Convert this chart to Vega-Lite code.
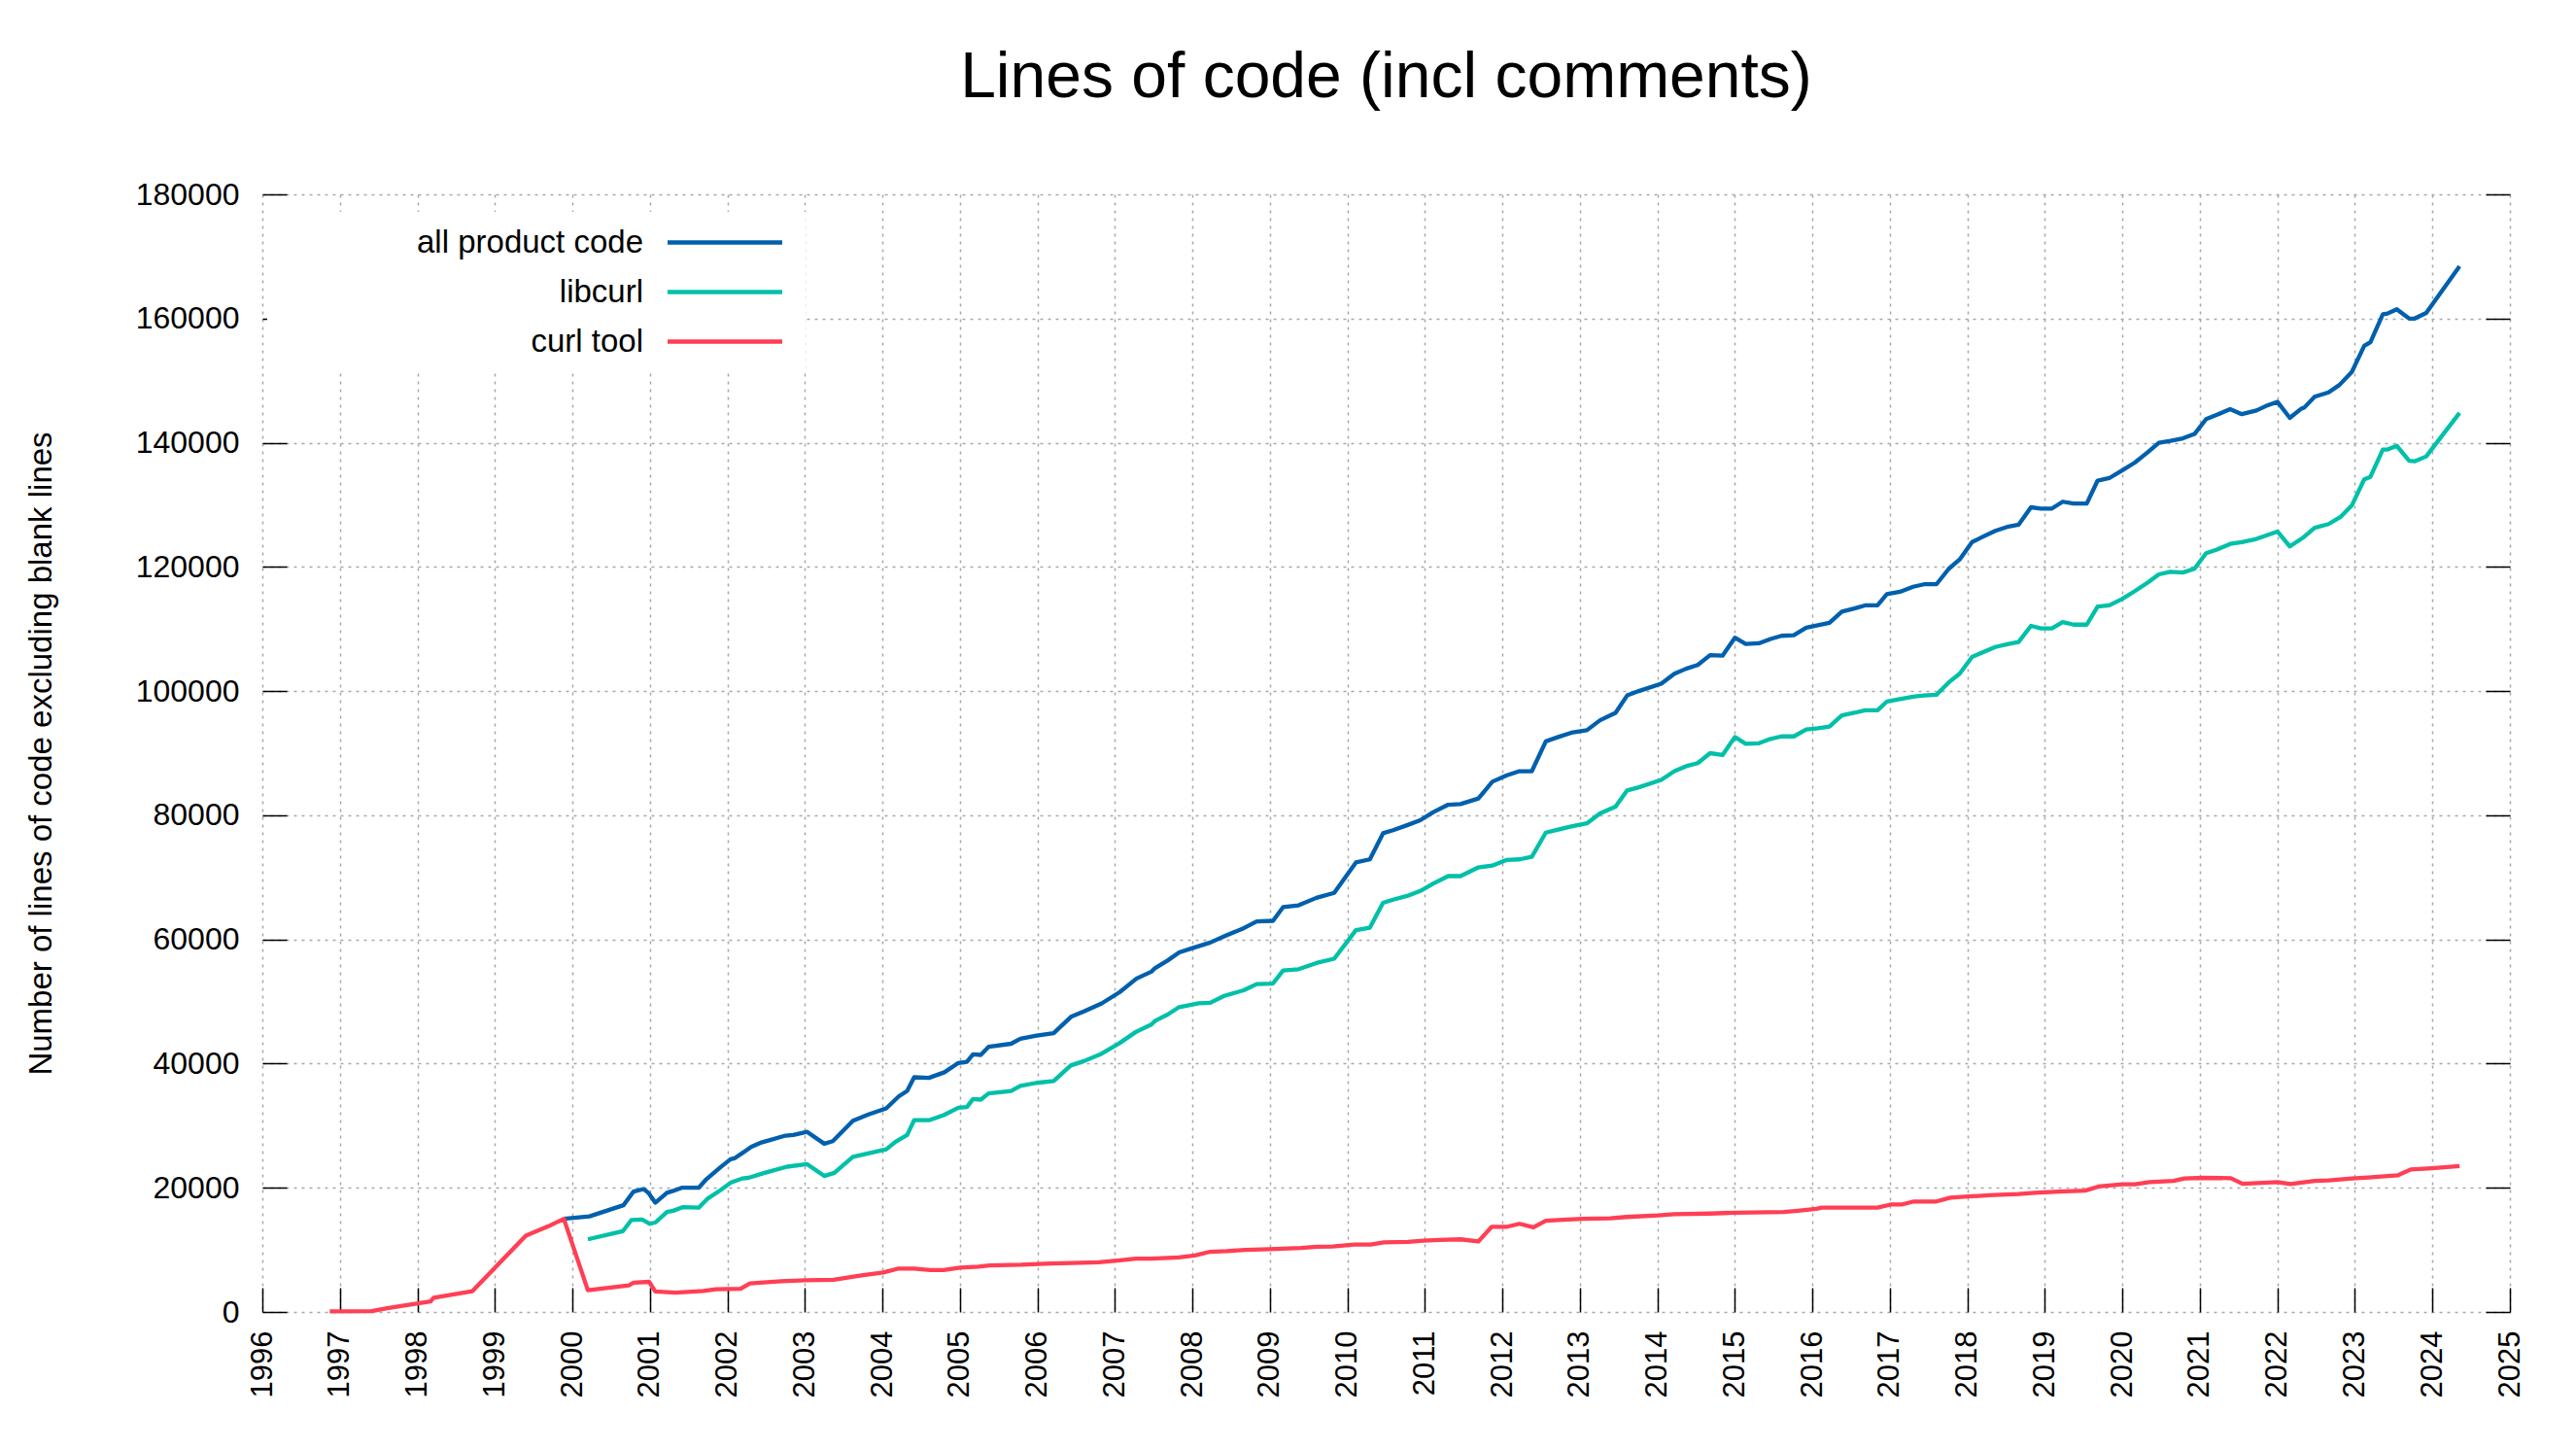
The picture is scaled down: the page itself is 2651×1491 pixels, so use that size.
{
  "$schema": "https://vega.github.io/schema/vega-lite/v6.json",
  "width": 2313,
  "height": 1150,
  "autosize": {"type": "none"},
  "padding": {"left": 270, "top": 200, "right": 68, "bottom": 141},
  "background": "white",
  "title": {
    "text": "Lines of code (incl comments)",
    "fontSize": 66,
    "font": "Liberation Sans",
    "fontWeight": "normal",
    "color": "black",
    "anchor": "middle",
    "offset": 70
  },
  "datasets": {
    "all": [
      {"t": 1999.89, "v": 15000}, {"t": 2000.22, "v": 15400}, {"t": 2000.66, "v": 17200}, {"t": 2000.79, "v": 19400},
      {"t": 2000.92, "v": 19800}, {"t": 2000.98, "v": 19200}, {"t": 2001.07, "v": 17600}, {"t": 2001.22, "v": 19200},
      {"t": 2001.30, "v": 19500}, {"t": 2001.41, "v": 20000}, {"t": 2001.63, "v": 20000}, {"t": 2001.73, "v": 21400},
      {"t": 2001.91, "v": 23300}, {"t": 2002.04, "v": 24600}, {"t": 2002.10, "v": 24800}, {"t": 2002.31, "v": 26600},
      {"t": 2002.44, "v": 27300}, {"t": 2002.75, "v": 28400}, {"t": 2002.85, "v": 28500}, {"t": 2003.03, "v": 29000},
      {"t": 2003.25, "v": 27100}, {"t": 2003.36, "v": 27500}, {"t": 2003.62, "v": 30800}, {"t": 2003.82, "v": 31800},
      {"t": 2004.05, "v": 32800}, {"t": 2004.21, "v": 34700}, {"t": 2004.32, "v": 35600}, {"t": 2004.41, "v": 37800},
      {"t": 2004.60, "v": 37700}, {"t": 2004.80, "v": 38600}, {"t": 2004.98, "v": 40100}, {"t": 2005.09, "v": 40300},
      {"t": 2005.17, "v": 41500}, {"t": 2005.27, "v": 41400}, {"t": 2005.37, "v": 42700}, {"t": 2005.66, "v": 43200},
      {"t": 2005.78, "v": 44000}, {"t": 2005.99, "v": 44500}, {"t": 2006.21, "v": 44900}, {"t": 2006.44, "v": 47600},
      {"t": 2006.60, "v": 48400}, {"t": 2006.83, "v": 49700}, {"t": 2007.06, "v": 51500}, {"t": 2007.28, "v": 53700},
      {"t": 2007.47, "v": 54800}, {"t": 2007.52, "v": 55400}, {"t": 2007.68, "v": 56600}, {"t": 2007.83, "v": 57900},
      {"t": 2008.00, "v": 58600}, {"t": 2008.23, "v": 59500}, {"t": 2008.43, "v": 60600}, {"t": 2008.66, "v": 61800},
      {"t": 2008.83, "v": 62900}, {"t": 2009.04, "v": 63000}, {"t": 2009.17, "v": 65200}, {"t": 2009.37, "v": 65500},
      {"t": 2009.60, "v": 66700}, {"t": 2009.83, "v": 67500}, {"t": 2010.11, "v": 72400}, {"t": 2010.29, "v": 72900},
      {"t": 2010.46, "v": 77100}, {"t": 2010.59, "v": 77600}, {"t": 2010.77, "v": 78400}, {"t": 2010.94, "v": 79200},
      {"t": 2011.11, "v": 80500}, {"t": 2011.30, "v": 81700}, {"t": 2011.46, "v": 81800}, {"t": 2011.69, "v": 82700},
      {"t": 2011.87, "v": 85400}, {"t": 2012.05, "v": 86400}, {"t": 2012.22, "v": 87100}, {"t": 2012.38, "v": 87100},
      {"t": 2012.56, "v": 91900}, {"t": 2012.72, "v": 92600}, {"t": 2012.89, "v": 93300}, {"t": 2013.09, "v": 93700},
      {"t": 2013.26, "v": 95300}, {"t": 2013.46, "v": 96500}, {"t": 2013.61, "v": 99300}, {"t": 2013.76, "v": 100000},
      {"t": 2014.05, "v": 101200}, {"t": 2014.22, "v": 102800}, {"t": 2014.37, "v": 103600}, {"t": 2014.52, "v": 104200},
      {"t": 2014.68, "v": 105800}, {"t": 2014.84, "v": 105700}, {"t": 2015.00, "v": 108600}, {"t": 2015.14, "v": 107600},
      {"t": 2015.31, "v": 107700}, {"t": 2015.46, "v": 108400}, {"t": 2015.60, "v": 108900}, {"t": 2015.76, "v": 109000},
      {"t": 2015.92, "v": 110200}, {"t": 2016.07, "v": 110600}, {"t": 2016.22, "v": 111000}, {"t": 2016.38, "v": 112800},
      {"t": 2016.54, "v": 113300}, {"t": 2016.68, "v": 113800}, {"t": 2016.84, "v": 113800}, {"t": 2016.96, "v": 115600},
      {"t": 2017.13, "v": 116000}, {"t": 2017.30, "v": 116800}, {"t": 2017.44, "v": 117200}, {"t": 2017.60, "v": 117200},
      {"t": 2017.76, "v": 119700}, {"t": 2017.90, "v": 121200}, {"t": 2018.06, "v": 124000}, {"t": 2018.19, "v": 124800},
      {"t": 2018.36, "v": 125800}, {"t": 2018.53, "v": 126500}, {"t": 2018.66, "v": 126800}, {"t": 2018.82, "v": 129600},
      {"t": 2018.95, "v": 129400}, {"t": 2019.09, "v": 129400}, {"t": 2019.23, "v": 130500}, {"t": 2019.37, "v": 130200},
      {"t": 2019.54, "v": 130200}, {"t": 2019.68, "v": 133900}, {"t": 2019.83, "v": 134300}, {"t": 2019.99, "v": 135500},
      {"t": 2020.16, "v": 136800}, {"t": 2020.33, "v": 138500}, {"t": 2020.47, "v": 140000}, {"t": 2020.62, "v": 140300},
      {"t": 2020.78, "v": 140700}, {"t": 2020.93, "v": 141400}, {"t": 2021.08, "v": 143800}, {"t": 2021.22, "v": 144500},
      {"t": 2021.39, "v": 145400}, {"t": 2021.54, "v": 144600}, {"t": 2021.73, "v": 145200}, {"t": 2021.85, "v": 145900},
      {"t": 2022.00, "v": 146600}, {"t": 2022.16, "v": 144000}, {"t": 2022.31, "v": 145500}, {"t": 2022.35, "v": 145700},
      {"t": 2022.48, "v": 147400}, {"t": 2022.66, "v": 148100}, {"t": 2022.80, "v": 149300}, {"t": 2022.96, "v": 151400},
      {"t": 2023.12, "v": 155600}, {"t": 2023.20, "v": 156200}, {"t": 2023.36, "v": 160700}, {"t": 2023.42, "v": 160800},
      {"t": 2023.54, "v": 161500}, {"t": 2023.70, "v": 160000}, {"t": 2023.77, "v": 160000}, {"t": 2023.92, "v": 160900},
      {"t": 2024.35, "v": 168400}
    ],
    "lib": [
      {"t": 2000.20, "v": 11700}, {"t": 2000.65, "v": 13000}, {"t": 2000.76, "v": 14800}, {"t": 2000.90, "v": 14900},
      {"t": 2001.00, "v": 14200}, {"t": 2001.07, "v": 14400}, {"t": 2001.22, "v": 16100}, {"t": 2001.30, "v": 16300},
      {"t": 2001.43, "v": 16900}, {"t": 2001.63, "v": 16800}, {"t": 2001.75, "v": 18300}, {"t": 2001.91, "v": 19600},
      {"t": 2002.04, "v": 20800}, {"t": 2002.19, "v": 21500}, {"t": 2002.27, "v": 21600}, {"t": 2002.48, "v": 22400},
      {"t": 2002.77, "v": 23400}, {"t": 2003.03, "v": 23800}, {"t": 2003.25, "v": 21900}, {"t": 2003.38, "v": 22400},
      {"t": 2003.62, "v": 25000}, {"t": 2004.05, "v": 26200}, {"t": 2004.17, "v": 27400}, {"t": 2004.32, "v": 28500},
      {"t": 2004.41, "v": 30900}, {"t": 2004.61, "v": 30900}, {"t": 2004.79, "v": 31700}, {"t": 2004.98, "v": 32900},
      {"t": 2005.09, "v": 33000}, {"t": 2005.17, "v": 34300}, {"t": 2005.27, "v": 34200}, {"t": 2005.37, "v": 35200},
      {"t": 2005.66, "v": 35600}, {"t": 2005.78, "v": 36400}, {"t": 2005.99, "v": 36900}, {"t": 2006.21, "v": 37200},
      {"t": 2006.43, "v": 39700}, {"t": 2006.60, "v": 40400}, {"t": 2006.83, "v": 41600}, {"t": 2007.06, "v": 43300},
      {"t": 2007.27, "v": 45100}, {"t": 2007.47, "v": 46300}, {"t": 2007.52, "v": 46900}, {"t": 2007.68, "v": 47900},
      {"t": 2007.83, "v": 49100}, {"t": 2008.08, "v": 49700}, {"t": 2008.23, "v": 49800}, {"t": 2008.41, "v": 50900},
      {"t": 2008.66, "v": 51800}, {"t": 2008.83, "v": 52800}, {"t": 2009.04, "v": 52900}, {"t": 2009.17, "v": 55000},
      {"t": 2009.37, "v": 55200}, {"t": 2009.60, "v": 56200}, {"t": 2009.83, "v": 56900}, {"t": 2010.11, "v": 61500},
      {"t": 2010.29, "v": 61900}, {"t": 2010.46, "v": 65900}, {"t": 2010.59, "v": 66400}, {"t": 2010.77, "v": 67000},
      {"t": 2010.94, "v": 67800}, {"t": 2011.11, "v": 69000}, {"t": 2011.30, "v": 70200}, {"t": 2011.46, "v": 70200},
      {"t": 2011.69, "v": 71600}, {"t": 2011.87, "v": 71900}, {"t": 2012.05, "v": 72800}, {"t": 2012.22, "v": 72900},
      {"t": 2012.38, "v": 73300}, {"t": 2012.56, "v": 77200}, {"t": 2012.72, "v": 77700}, {"t": 2012.89, "v": 78200},
      {"t": 2013.09, "v": 78700}, {"t": 2013.26, "v": 80300}, {"t": 2013.46, "v": 81400}, {"t": 2013.61, "v": 84000},
      {"t": 2013.76, "v": 84500}, {"t": 2014.05, "v": 85700}, {"t": 2014.22, "v": 87100}, {"t": 2014.37, "v": 87900},
      {"t": 2014.52, "v": 88400}, {"t": 2014.68, "v": 90000}, {"t": 2014.84, "v": 89700}, {"t": 2015.00, "v": 92600},
      {"t": 2015.14, "v": 91500}, {"t": 2015.31, "v": 91600}, {"t": 2015.46, "v": 92300}, {"t": 2015.60, "v": 92700},
      {"t": 2015.76, "v": 92700}, {"t": 2015.92, "v": 93800}, {"t": 2016.07, "v": 94000}, {"t": 2016.22, "v": 94300},
      {"t": 2016.38, "v": 96100}, {"t": 2016.54, "v": 96500}, {"t": 2016.68, "v": 96900}, {"t": 2016.84, "v": 96900},
      {"t": 2016.96, "v": 98300}, {"t": 2017.13, "v": 98700}, {"t": 2017.30, "v": 99100}, {"t": 2017.44, "v": 99300},
      {"t": 2017.60, "v": 99400}, {"t": 2017.76, "v": 101400}, {"t": 2017.90, "v": 102800}, {"t": 2018.06, "v": 105500},
      {"t": 2018.19, "v": 106200}, {"t": 2018.36, "v": 107100}, {"t": 2018.53, "v": 107600}, {"t": 2018.66, "v": 107900},
      {"t": 2018.82, "v": 110500}, {"t": 2018.95, "v": 110100}, {"t": 2019.09, "v": 110100}, {"t": 2019.23, "v": 111100},
      {"t": 2019.37, "v": 110700}, {"t": 2019.54, "v": 110700}, {"t": 2019.68, "v": 113600}, {"t": 2019.83, "v": 113800},
      {"t": 2019.99, "v": 114800}, {"t": 2020.16, "v": 116100}, {"t": 2020.33, "v": 117500}, {"t": 2020.47, "v": 118800},
      {"t": 2020.62, "v": 119200}, {"t": 2020.78, "v": 119100}, {"t": 2020.93, "v": 119700}, {"t": 2021.08, "v": 122200},
      {"t": 2021.22, "v": 122800}, {"t": 2021.39, "v": 123700}, {"t": 2021.54, "v": 124000}, {"t": 2021.73, "v": 124500},
      {"t": 2022.00, "v": 125700}, {"t": 2022.16, "v": 123300}, {"t": 2022.34, "v": 124800}, {"t": 2022.48, "v": 126300},
      {"t": 2022.66, "v": 126900}, {"t": 2022.82, "v": 128100}, {"t": 2022.96, "v": 129900}, {"t": 2023.12, "v": 134100},
      {"t": 2023.20, "v": 134500}, {"t": 2023.36, "v": 138900}, {"t": 2023.42, "v": 138900}, {"t": 2023.54, "v": 139500},
      {"t": 2023.70, "v": 137100}, {"t": 2023.77, "v": 137000}, {"t": 2023.92, "v": 137800}, {"t": 2024.35, "v": 144800}
    ],
    "tool": [
      {"t": 1996.87, "v": 100}, {"t": 1997.41, "v": 150}, {"t": 1997.61, "v": 600}, {"t": 1998.17, "v": 1700},
      {"t": 1998.21, "v": 2300}, {"t": 1998.71, "v": 3350}, {"t": 1999.40, "v": 12300}, {"t": 1999.69, "v": 13800},
      {"t": 1999.89, "v": 15000}, {"t": 2000.20, "v": 3500}, {"t": 2000.73, "v": 4300}, {"t": 2000.79, "v": 4700},
      {"t": 2000.99, "v": 4850}, {"t": 2001.07, "v": 3300}, {"t": 2001.33, "v": 3100}, {"t": 2001.69, "v": 3400},
      {"t": 2001.85, "v": 3650}, {"t": 2002.17, "v": 3750}, {"t": 2002.29, "v": 4600}, {"t": 2002.69, "v": 4950},
      {"t": 2003.01, "v": 5100}, {"t": 2003.37, "v": 5200}, {"t": 2003.73, "v": 5900}, {"t": 2004.01, "v": 6350},
      {"t": 2004.21, "v": 7000}, {"t": 2004.41, "v": 7000}, {"t": 2004.62, "v": 6750}, {"t": 2004.79, "v": 6750},
      {"t": 2005.00, "v": 7150}, {"t": 2005.24, "v": 7300}, {"t": 2005.38, "v": 7500}, {"t": 2005.79, "v": 7600},
      {"t": 2006.17, "v": 7800}, {"t": 2006.44, "v": 7900}, {"t": 2006.79, "v": 8000}, {"t": 2007.06, "v": 8300},
      {"t": 2007.27, "v": 8600}, {"t": 2007.47, "v": 8600}, {"t": 2007.82, "v": 8800}, {"t": 2008.03, "v": 9100},
      {"t": 2008.23, "v": 9700}, {"t": 2008.44, "v": 9800}, {"t": 2008.68, "v": 10000}, {"t": 2008.99, "v": 10100},
      {"t": 2009.16, "v": 10200}, {"t": 2009.40, "v": 10300}, {"t": 2009.61, "v": 10500}, {"t": 2009.81, "v": 10550},
      {"t": 2010.09, "v": 10850}, {"t": 2010.30, "v": 10850}, {"t": 2010.47, "v": 11200}, {"t": 2010.78, "v": 11300},
      {"t": 2010.98, "v": 11500}, {"t": 2011.19, "v": 11600}, {"t": 2011.46, "v": 11700}, {"t": 2011.69, "v": 11350},
      {"t": 2011.86, "v": 13700}, {"t": 2012.05, "v": 13700}, {"t": 2012.22, "v": 14200}, {"t": 2012.40, "v": 13650},
      {"t": 2012.56, "v": 14700}, {"t": 2012.84, "v": 14900}, {"t": 2013.05, "v": 15000}, {"t": 2013.39, "v": 15100},
      {"t": 2013.60, "v": 15300}, {"t": 2014.01, "v": 15550}, {"t": 2014.22, "v": 15750}, {"t": 2014.68, "v": 15850},
      {"t": 2015.00, "v": 16000}, {"t": 2015.63, "v": 16100}, {"t": 2015.81, "v": 16300}, {"t": 2016.05, "v": 16600},
      {"t": 2016.12, "v": 16800}, {"t": 2016.84, "v": 16800}, {"t": 2017.01, "v": 17300}, {"t": 2017.15, "v": 17300},
      {"t": 2017.31, "v": 17800}, {"t": 2017.60, "v": 17800}, {"t": 2017.78, "v": 18400}, {"t": 2018.01, "v": 18600},
      {"t": 2018.28, "v": 18800}, {"t": 2018.66, "v": 19000}, {"t": 2018.87, "v": 19200}, {"t": 2019.18, "v": 19400},
      {"t": 2019.52, "v": 19550}, {"t": 2019.69, "v": 20200}, {"t": 2020.00, "v": 20550}, {"t": 2020.16, "v": 20550},
      {"t": 2020.35, "v": 20900}, {"t": 2020.66, "v": 21100}, {"t": 2020.80, "v": 21500}, {"t": 2021.04, "v": 21600},
      {"t": 2021.40, "v": 21550}, {"t": 2021.55, "v": 20650}, {"t": 2022.00, "v": 20900}, {"t": 2022.17, "v": 20600},
      {"t": 2022.48, "v": 21100}, {"t": 2022.66, "v": 21200}, {"t": 2022.96, "v": 21500}, {"t": 2023.17, "v": 21650},
      {"t": 2023.55, "v": 22000}, {"t": 2023.72, "v": 22950}, {"t": 2023.99, "v": 23150}, {"t": 2024.35, "v": 23500}
    ]
  },
  "encoding": {
    "x": {
      "field": "t",
      "type": "quantitative",
      "scale": {"domain": [1996, 2025], "nice": false, "zero": false},
      "axis": {
        "title": null,
        "values": [1996, 1997, 1998, 1999, 2000, 2001, 2002, 2003, 2004, 2005, 2006, 2007, 2008, 2009, 2010,
                   2011, 2012, 2013, 2014, 2015, 2016, 2017, 2018, 2019, 2020, 2021, 2022, 2023, 2024, 2025],
        "format": "d",
        "labelAngle": 270,
        "labelFontSize": 31,
        "labelPadding": 44,
        "labelFlush": false,
        "labelOverlap": false,
        "tickSize": -25
      }
    }
  },
  "layer": [
    {
      "data": {"name": "all"},
      "mark": {"type": "line", "strokeWidth": 4.3, "strokeJoin": "round"},
      "encoding": {
        "y": {
          "field": "v",
          "type": "quantitative",
          "scale": {"domain": [0, 180000], "nice": false},
          "axis": {
            "orient": "left",
            "title": "Number of lines of code excluding blank lines",
            "titleFontSize": 33,
            "titlePadding": 80,
            "values": [0, 20000, 40000, 60000, 80000, 100000, 120000, 140000, 160000, 180000],
            "format": "d",
            "labelFontSize": 32,
            "labelPadding": 49,
            "tickSize": -25
          }
        },
        "color": {
          "datum": "all product code",
          "type": "nominal",
          "scale": {
            "domain": ["all product code", "libcurl", "curl tool"],
            "range": ["#0060ad", "#00c0a8", "#ff3f55"]
          },
          "legend": {
            "title": null,
            "orient": "none",
            "legendX": 5,
            "legendY": 18,
            "direction": "vertical",
            "symbolType": "M-20,0H20",
            "symbolSize": 34.81,
            "symbolStrokeWidth": 4.3,
            "symbolOffset": 439.5,
            "labelFontSize": 33,
            "labelColor": "black",
            "labelAlign": "right",
            "labelOffset": -100.5,
            "labelLimit": 500,
            "rowPadding": 17,
            "padding": 15,
            "fillColor": "white"
          }
        }
      }
    },
    {
      "data": {"name": "lib"},
      "mark": {"type": "line", "strokeWidth": 4.3, "strokeJoin": "round"},
      "encoding": {
        "y": {
          "field": "v",
          "type": "quantitative",
          "scale": {"domain": [0, 180000], "nice": false},
          "axis": {
            "orient": "right",
            "title": null,
            "values": [0, 20000, 40000, 60000, 80000, 100000, 120000, 140000, 160000, 180000],
            "labels": false,
            "grid": false,
            "tickSize": -25
          }
        },
        "color": {"datum": "libcurl", "type": "nominal"}
      }
    },
    {
      "data": {"name": "tool"},
      "mark": {"type": "line", "strokeWidth": 4.3, "strokeJoin": "round"},
      "encoding": {
        "y": {
          "field": "v",
          "type": "quantitative",
          "scale": {"domain": [0, 180000], "nice": false},
          "axis": null
        },
        "color": {"datum": "curl tool", "type": "nominal"}
      }
    }
  ],
  "resolve": {"axis": {"y": "independent"}},
  "config": {
    "font": "Liberation Sans",
    "view": {"stroke": null},
    "axis": {
      "domain": false,
      "grid": true,
      "gridColor": "#a8a8a8",
      "gridDash": [3, 5],
      "gridWidth": 1.5,
      "gridOpacity": 1,
      "tickColor": "black",
      "tickWidth": 1.5,
      "labelColor": "black",
      "labelFont": "Liberation Sans",
      "titleColor": "black",
      "titleFont": "Liberation Sans",
      "titleFontWeight": "normal"
    }
  }
}
